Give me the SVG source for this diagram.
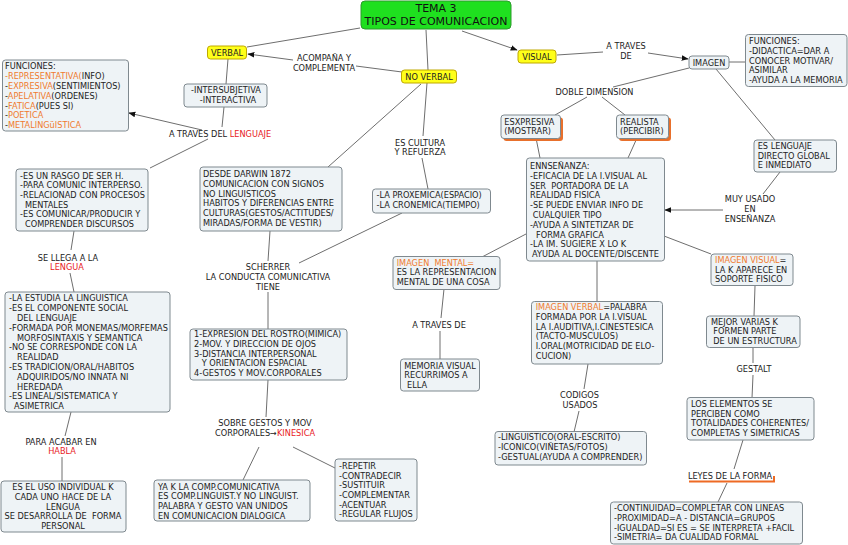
<svg xmlns="http://www.w3.org/2000/svg" width="848" height="545" viewBox="0 0 848 545">
<defs>
<style>
.b{fill:#eef3f6;stroke:#7f898f;stroke-width:1}
.y{fill:#ffff1a;stroke:#bfa800;stroke-width:1}
.g{fill:#1fe01f;stroke:#2c9a2c;stroke-width:1}
.sh{fill:#e8702c}
text{font-family:"DejaVu Sans",Verdana,sans-serif;font-size:8.2px;fill:#222}
.m{text-anchor:middle}
.ti{font-size:11px;fill:#111}
.o{fill:#f07b2e}
.r{fill:#e8201e}
#connectors path{stroke:#6e6e6e;stroke-width:1;fill:none}
</style>
<marker id="ar" viewBox="0 0 10 10" refX="9" refY="5" markerWidth="7" markerHeight="7" orient="auto" markerUnits="userSpaceOnUse">
<path d="M0,1 L10,5 L0,9 z" fill="#111"/>
</marker>
</defs>
<rect width="848" height="545" fill="#fff"/>
<g id="connectors">
<path d="M360,28 L247,47"/>
<path d="M426,30 L428,70"/>
<path d="M462,31 L517,50" marker-end="url(#ar)"/>
<path d="M402,72 L356,66"/>
<path d="M293,60 L248,54" marker-end="url(#ar)"/>
<path d="M228,59 L226,84"/>
<path d="M224,107 L222,127"/>
<path d="M202,130 L129,113" marker-end="url(#ar)"/>
<path d="M208,139 L150,168"/>
<path d="M74,231 L71,250"/>
<path d="M70,273 L74,292"/>
<path d="M71,412 L65,436"/>
<path d="M62,457 L62,481"/>
<path d="M421,84 L328,167"/>
<path d="M427,83 L423,136"/>
<path d="M422,158 L428,189"/>
<path d="M270,231 L268,261"/>
<path d="M402,213 L299,263"/>
<path d="M268,292 L268,329"/>
<path d="M268,380 L266,417"/>
<path d="M259,447 L243,480"/>
<path d="M293,447 L335,468"/>
<path d="M557,55 L603,52"/>
<path d="M648,53 L688,59" marker-end="url(#ar)"/>
<path d="M729,62 L745,62"/>
<path d="M716,69 L775,140"/>
<path d="M780,172 L763,194"/>
<path d="M723,210 L665,210" marker-end="url(#ar)"/>
<path d="M689,68 L613,87"/>
<path d="M587,97 L555,115"/>
<path d="M602,97 L625,115"/>
<path d="M536,138 L540,158"/>
<path d="M637,138 L628,158"/>
<path d="M526,234 L482,257"/>
<path d="M444,289 L441,318"/>
<path d="M440,331 L440,359"/>
<path d="M597,261 L597,302"/>
<path d="M588,364 L584,389"/>
<path d="M579,411 L574,432"/>
<path d="M664,236 L711,254"/>
<path d="M755,286 L754,316"/>
<path d="M753,348 L753,363"/>
<path d="M753,375 L752,398"/>
<path d="M743,440 L734,469"/>
<path d="M727,483 L718,502"/>
</g>

<g id="title">
<rect class="g" x="361" y="1" width="150" height="28" rx="4"/>
<text class="ti m" x="436" y="12">TEMA 3</text>
<text class="ti m" x="436" y="25">TIPOS DE COMUNICACION</text>
</g>
<g id="verbal">
<rect class="y" x="207.5" y="46" width="39" height="13" rx="3"/>
<text class="m" x="227" y="56">VERBAL</text>
</g>
<g id="noverbal">
<rect class="y" x="401.5" y="70" width="55" height="13" rx="3"/>
<text class="m" x="429" y="80">NO VERBAL</text>
</g>
<g id="visual">
<rect class="y" x="518" y="50" width="38" height="13" rx="3"/>
<text class="m" x="537" y="60">VISUAL</text>
</g>

<g id="lbl-acompana">
<text class="m" x="324" y="61">ACOMPAÑA Y</text>
<text class="m" x="324" y="71">COMPLEMENTA</text>
</g>

<g id="intersub">
<rect class="b" x="184" y="84" width="83" height="23" rx="3"/>
<text class="m" x="226" y="93">-INTERSUBJETIVA</text>
<text class="m" x="228" y="103">-INTERACTIVA</text>
</g>
<g id="lbl-lenguaje">
<text class="m" x="220" y="137">A TRAVES DEL <tspan class="r">LENGUAJE</tspan></text>
</g>
<g id="funciones-l">
<rect class="b" x="2.5" y="60" width="126" height="71" rx="3"/>
<text x="5" y="69">FUNCIONES:</text>
<text x="5" y="79"><tspan class="o">-REPRESENTATIVA(</tspan>INFO)</text>
<text x="5" y="89">-<tspan class="o">EXPRESIVA</tspan>(SENTIMIENTOS)</text>
<text x="5" y="99">-<tspan class="o">APELATIVA</tspan>(ORDENES)</text>
<text x="5" y="109">-<tspan class="o">FATICA</tspan>(PUES SI)</text>
<text x="5" y="118">-<tspan class="o">POETICA</tspan></text>
<text x="5" y="128">-<tspan class="o">METALINGüISTICA</tspan></text>
</g>
<g id="rasgo">
<rect class="b" x="16" y="169" width="132" height="62" rx="3"/>
<text x="20" y="178.7">-ES UN RASGO DE SER H.</text>
<text x="20" y="188.3">-PARA COMUNIC INTERPERSO.</text>
<text x="20" y="198">-RELACIONAD CON PROCESOS</text>
<text x="25" y="207.7">MENTALES</text>
<text x="20" y="217.3">-ES COMUNICAR/PRODUCIR Y</text>
<text x="25" y="227">COMPRENDER DISCURSOS</text>
</g>
<g id="lbl-lengua">
<text class="m" x="68" y="261">SE LLEGA A LA</text>
<text class="m r" x="67" y="270">LENGUA</text>
</g>
<g id="estudia">
<rect class="b" x="5" y="292" width="165" height="120" rx="3"/>
<text x="9" y="301.3">-LA ESTUDIA LA LINGUISTICA</text>
<text x="9" y="311.1">-ES EL COMPONENTE SOCIAL</text>
<text x="17" y="320.9">DEL LENGUAJE</text>
<text x="9" y="330.7">-FORMADA POR MONEMAS/MORFEMAS</text>
<text x="17" y="340.5">MORFOSINTAXIS Y SEMANTICA</text>
<text x="9" y="350.3">-NO SE CORRESPONDE CON LA</text>
<text x="17" y="360.1">REALIDAD</text>
<text x="9" y="369.9">-ES TRADICION/ORAL/HABITOS</text>
<text x="17" y="379.7">ADQUIRIDOS/NO INNATA NI</text>
<text x="17" y="389.5">HEREDADA</text>
<text x="9" y="399.3">-ES LINEAL/SISTEMATICA Y</text>
<text x="14" y="409.1">ASIMETRICA</text>
</g>
<g id="lbl-habla">
<text class="m" x="61" y="444.7">PARA ACABAR EN</text>
<text class="m r" x="62" y="454">HABLA</text>
</g>
<g id="uso">
<rect class="b" x="1" y="481" width="125" height="51" rx="3"/>
<text class="m" x="63" y="490.3">ES EL USO INDIVIDUAL K</text>
<text class="m" x="63" y="500">CADA UNO HACE DE LA</text>
<text class="m" x="63" y="509.7">LENGUA</text>
<text class="m" x="63" y="519.3" xml:space="preserve">SE DESARROLLA DE  FORMA</text>
<text class="m" x="63" y="529">PERSONAL</text>
</g>

<g id="darwin">
<rect class="b" x="200" y="167" width="142" height="64" rx="3"/>
<text x="203" y="177.3">DESDE DARWIN 1872</text>
<text x="203" y="187">COMUNICACION CON SIGNOS</text>
<text x="203" y="196.7">NO LINGUISTICOS</text>
<text x="203" y="206.3">HABITOS Y DIFERENCIAS ENTRE</text>
<text x="203" y="216">CULTURAS(GESTOS/ACTITUDES/</text>
<text x="203" y="225.7">MIRADAS/FORMA DE VESTIR)</text>
</g>
<g id="lbl-cultura">
<text class="m" x="420" y="145.7">ES CULTURA</text>
<text class="m" x="420" y="155.3">Y REFUERZA</text>
</g>
<g id="proxemica">
<rect class="b" x="372.5" y="189" width="118" height="24" rx="3"/>
<text x="376.5" y="198">-LA PROXEMICA(ESPACIO)</text>
<text x="376.5" y="208">-LA CRONEMICA(TIEMPO)</text>
</g>
<g id="lbl-scherrer">
<text class="m" x="268" y="270.3">SCHERRER</text>
<text class="m" x="268" y="280">LA CONDUCTA COMUNICATIVA</text>
<text class="m" x="268" y="289.7">TIENE</text>
</g>
<g id="expresion">
<rect class="b" x="190" y="329" width="157" height="51" rx="3"/>
<text x="194" y="337.3">1-EXPRESION DEL ROSTRO(MIMICA)</text>
<text x="194" y="347">2-MOV. Y DIRECCION DE OJOS</text>
<text x="194" y="356.7">3-DISTANCIA INTERPERSONAL</text>
<text x="201.7" y="366.3">Y ORIENTACION ESPACIAL</text>
<text x="194" y="376">4-GESTOS Y MOV.CORPORALES</text>
</g>
<g id="lbl-kinesica">
<text class="m" x="265" y="425.7">SOBRE GESTOS Y MOV</text>
<text class="m" x="265" y="435.7">CORPORALES→<tspan class="r">KINESICA</tspan></text>
</g>
<g id="yak">
<rect class="b" x="154" y="480" width="156" height="41" rx="3"/>
<text x="158" y="489.7">YA K LA COMP.COMUNICATIVA</text>
<text x="158" y="499.3">ES COMP.LINGUIST.Y NO LINGUIST.</text>
<text x="158" y="509">PALABRA Y GESTO VAN UNIDOS</text>
<text x="158" y="518.7">EN COMUNICACION DIALOGICA</text>
</g>
<g id="repetir">
<rect class="b" x="335" y="459" width="82" height="62" rx="3"/>
<text x="339" y="469">-REPETIR</text>
<text x="339" y="478.7">-CONTRADECIR</text>
<text x="339" y="488.3">-SUSTITUIR</text>
<text x="339" y="498">-COMPLEMENTAR</text>
<text x="339" y="507.7">-ACENTUAR</text>
<text x="339" y="517.3">-REGULAR FLUJOS</text>
</g>

<g id="lbl-atraves-v">
<text class="m" x="626" y="49">A TRAVES</text>
<text class="m" x="626" y="59">DE</text>
</g>
<g id="imagen">
<rect class="b" x="689" y="56" width="40" height="13" rx="3"/>
<text class="m" x="709" y="65.7">IMAGEN</text>
</g>
<g id="funciones-r">
<rect class="b" x="745.5" y="34.5" width="101.5" height="52" rx="3"/>
<text x="749" y="44.3">FUNCIONES:</text>
<text x="749" y="54">-DIDACTICA=DAR A</text>
<text x="749" y="63.7">CONOCER MOTIVAR/</text>
<text x="749" y="73.3">ASIMILAR</text>
<text x="749" y="83">-AYUDA A LA MEMORIA</text>
</g>
<g id="lenguaje-directo">
<rect class="b" x="754" y="140" width="82.5" height="32" rx="3"/>
<text x="757.7" y="149">ES LENGUAJE</text>
<text x="757.7" y="158.7">DIRECTO GLOBAL</text>
<text x="757.7" y="168.3">E INMEDIATO</text>
</g>
<g id="lbl-muyusado">
<text class="m" x="750" y="202.3">MUY USADO</text>
<text class="m" x="750" y="212.3">EN</text>
<text class="m" x="750" y="222">ENSEÑANZA</text>
</g>
<g id="lbl-doble">
<text class="m" x="594.5" y="94.7">DOBLE DIMENSION</text>
</g>
<g id="esxpresiva">
<rect class="sh" x="503.5" y="117.5" width="59.5" height="23.5" rx="3"/>
<rect class="b" x="501" y="115" width="59.5" height="23.5" rx="3"/>
<text x="504.3" y="124.7">ESXPRESIVA</text>
<text x="504.3" y="134.3">(MOSTRAR)</text>
</g>
<g id="realista">
<rect class="sh" x="619" y="117.5" width="52" height="23.5" rx="3"/>
<rect class="b" x="616.5" y="115" width="52" height="23.5" rx="3"/>
<text x="620" y="124.7">REALISTA</text>
<text x="620" y="134.3">(PERCIBIR)</text>
</g>
<g id="ensenanza">
<rect class="b" x="526.5" y="158" width="138" height="103" rx="3"/>
<text x="530" y="169">ENNSEÑANZA:</text>
<text x="530" y="178.8">-EFICACIA DE LA I.VISUAL AL</text>
<text x="530" y="188.6" xml:space="preserve">SER  PORTADORA DE LA</text>
<text x="530" y="198.4">REALIDAD FISICA</text>
<text x="530" y="208.2">-SE PUEDE ENVIAR INFO DE</text>
<text x="532.7" y="218">CUALQUIER TIPO</text>
<text x="530" y="227.8">-AYUDA A SINTETIZAR DE</text>
<text x="536" y="237.6">FORMA GRAFICA</text>
<text x="530" y="247.4">-LA IM. SUGIERE X LO K</text>
<text x="532" y="257.2">AYUDA AL DOCENTE/DISCENTE</text>
</g>
<g id="imagen-mental">
<rect class="b" x="393" y="256.5" width="107" height="33" rx="3"/>
<text x="396.7" y="265.7" class="o" xml:space="preserve">IMAGEN  MENTAL=</text>
<text x="396.7" y="275.3">ES LA REPRESENTACION</text>
<text x="396.7" y="285">MENTAL DE UNA COSA</text>
</g>
<g id="lbl-atraves-m">
<text class="m" x="439" y="328">A TRAVES DE</text>
</g>
<g id="memoria">
<rect class="b" x="400.5" y="359" width="79" height="32" rx="3"/>
<text x="404.3" y="368.7">MEMORIA VISUAL</text>
<text x="404.3" y="378.3">RECURRIMOS A</text>
<text x="407" y="388">ELLA</text>
</g>
<g id="imagen-verbal">
<rect class="b" x="531.5" y="301.5" width="131" height="62.5" rx="3"/>
<text x="535.7" y="310.3"><tspan class="o">IMAGEN VERBAL</tspan>=PALABRA</text>
<text x="535.7" y="320">FORMADA POR LA I.VISUAL</text>
<text x="535.7" y="329.7">LA I.AUDITIVA,I.CINESTESICA</text>
<text x="535.7" y="339.3">(TACTO-MUSCULOS)</text>
<text x="535.7" y="349">I.ORAL(MOTRICIDAD DE ELO-</text>
<text x="535.7" y="358.7">CUCION)</text>
</g>
<g id="lbl-codigos">
<text class="m" x="579.5" y="398">CODIGOS</text>
<text class="m" x="580" y="408">USADOS</text>
</g>
<g id="codigos">
<rect class="b" x="495" y="431.5" width="151.5" height="33.5" rx="3"/>
<text x="498" y="440.3">-LINGUISTICO(ORAL-ESCRITO)</text>
<text x="498" y="449.7">-ICONICO(VIÑETAS/FOTOS)</text>
<text x="498" y="459.7">-GESTUAL(AYUDA A COMPRENDER)</text>
</g>
<g id="imagen-visual">
<rect class="b" x="711" y="254" width="82" height="31.5" rx="3"/>
<text x="715" y="263"><tspan class="o">IMAGEN VISUAL</tspan>=</text>
<text x="715" y="272.7">LA K APARECE EN</text>
<text x="715" y="282.3">SOPORTE FISICO</text>
</g>
<g id="mejor">
<rect class="b" x="706.5" y="316" width="93.5" height="31.5" rx="3"/>
<text x="711" y="324.7">MEJOR VARIAS K</text>
<text x="713.3" y="334.3">FORMEN PARTE</text>
<text x="713.3" y="344">DE UN ESTRUCTURA</text>
</g>
<g id="lbl-gestalt">
<text class="m" x="754" y="372">GESTALT</text>
</g>
<g id="elementos">
<rect class="b" x="687" y="397.5" width="127" height="42.5" rx="3"/>
<text x="691" y="407">LOS ELEMENTOS SE</text>
<text x="691" y="416.7">PERCIBEN COMO</text>
<text x="691" y="426.3">TOTALIDADES COHERENTES/</text>
<text x="691" y="436">COMPLETAS Y SIMETRICAS</text>
</g>
<g id="lbl-leyes">
<path d="M689,481.5 L774,481.5 L774,476" fill="none" stroke="#ee6a24" stroke-width="2"/>
<text class="m" x="730" y="479">LEYES DE LA FORMA</text>
</g>
<g id="continuidad">
<rect class="b" x="610.5" y="502" width="192" height="42" rx="3"/>
<text x="614" y="511.3">-CONTINUIDAD=COMPLETAR CON LINEAS</text>
<text x="614" y="521">-PROXIMIDAD=A - DISTANCIA=GRUPOS</text>
<text x="614" y="530.7">-IGUALDAD=SI ES = SE INTERPRETA +FACIL</text>
<text x="614" y="540.3">-SIMETRIA= DA CUALIDAD FORMAL</text>
</g>
</svg>
